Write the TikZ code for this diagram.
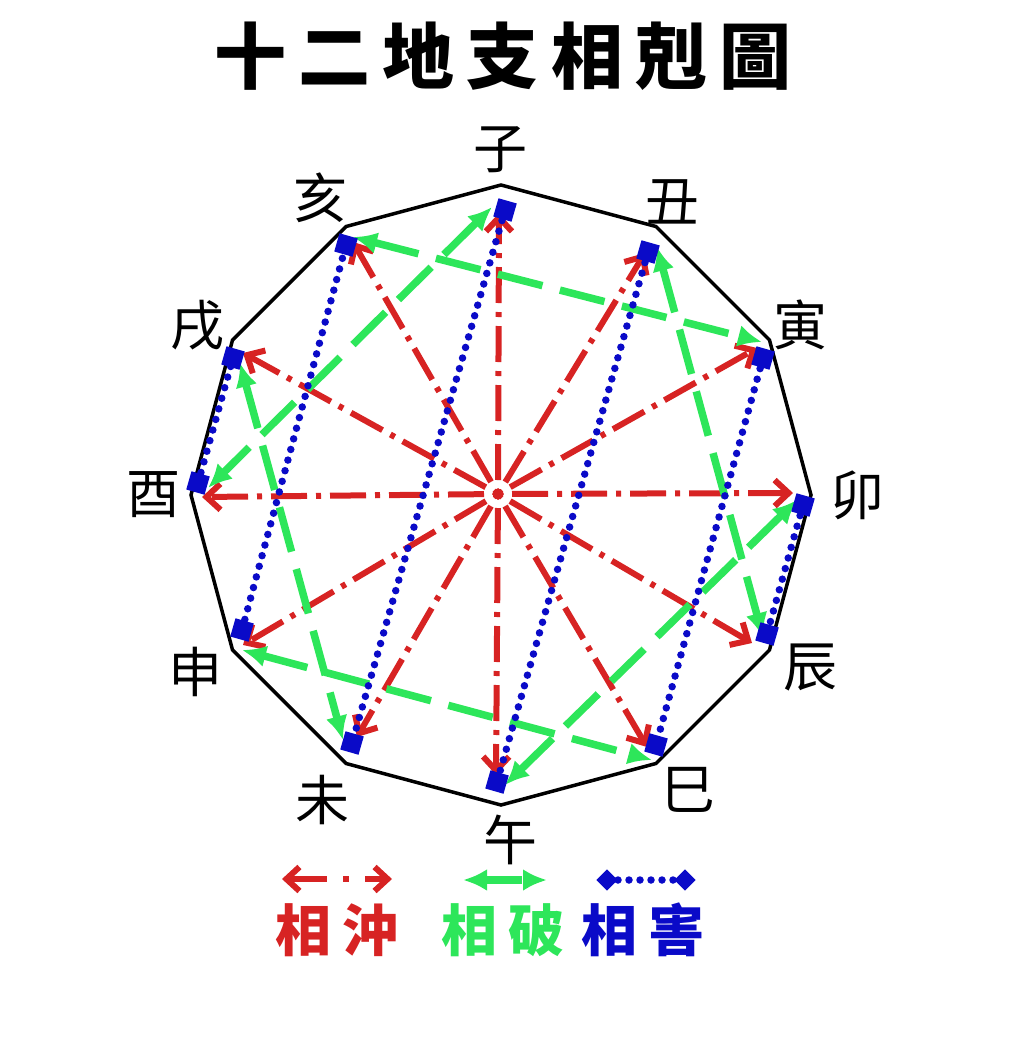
\documentclass[tikz,border=0pt]{standalone}
\usepackage{fontspec}
\newfontfamily\cjk{Noto Sans CJK TC}
\newfontfamily\cjktitle[LetterSpace=17]{Noto Sans CJK TC}
\newfontfamily\cjklegend[LetterSpace=20]{Noto Sans CJK TC}
\usetikzlibrary{arrows.meta}
\tikzset{>=stealth}

\definecolor{chongred}{RGB}{215,35,35}
\definecolor{pogreen}{RGB}{45,230,90}
\definecolor{haiblue}{RGB}{10,10,200}

\tikzset{
  rim/.style={black,line width=3.5pt,line join=miter},
  chong/.style={chongred,line width=6pt,dash pattern=on 5pt off 9pt on 36pt off 9pt,
    -{Straight Barb[length=14pt,width=26pt]}},
  po/.style={pogreen,line width=7.5pt,dash pattern=on 46pt off 18pt,
    {Latex[length=24pt,width=22pt]}-{Latex[length=24pt,width=22pt]}},
  hai/.style={haiblue,line width=7.5pt,line cap=round,dash pattern=on 0pt off 11pt},
  haimark/.style={fill=haiblue,inner sep=0pt,minimum size=19pt,rotate=-16},
  branch/.style={font=\cjk\fontsize{54}{54}\selectfont,inner sep=0pt},
  legendtext/.style={font=\cjklegend\bfseries\fontsize{56}{56}\selectfont,inner sep=0pt},
}

\begin{document}
\begin{tikzpicture}[x=1pt,y=-1pt]
  \useasboundingbox (0,0) rectangle (1015,1062);

  \node[font=\cjktitle\bfseries\fontsize{72}{72}\selectfont,inner sep=0pt] (title) at (503,56) {十二地支相剋圖};

  % the twelve-sided rim
  \draw[rim,shift={(501,495)}] (-90:310) \foreach \a in {-60,-30,...,240} { -- (\a:310) } -- cycle;

  % branch names
  \foreach \n/\t/\x/\y in {zi/子/500/150, chou/丑/672/202, yin/寅/800/325, mao/卯/857/495,
      chen/辰/810/668, si/巳/688/790, wu/午/510/840, wei/未/322/800,
      shen/申/195/672, you/酉/153/495, xu/戌/197/325, hai/亥/320/198}
    \node[branch] (l-\n) at (\x,\y) {\t};

  \coordinate (o) at (498,494);
  \foreach \n/\x/\y in {zi/499/213, chou/645/253, yin/757/348, mao/793/493,
      chen/752/643, si/647/747, wu/496/775, wei/357/737,
      shen/243/645, you/202/497, xu/243/353, hai/353/242}
    \coordinate (c-\n) at (\x,\y);
  \foreach \n/\x/\y in {zi/492/207, chou/657/247, yin/762/342, mao/797/500,
      chen/763/637, si/652/760, wu/505/785, wei/343/740,
      shen/242/650, you/208/488, xu/240/363, hai/353/237}
    \coordinate (p-\n) at (\x,\y);

  % clash
  \foreach \n in {zi,chou,yin,mao,chen,si,wu,wei,shen,you,xu,hai}
    \draw[chong] (o) -- (c-\n);

  % break
  \foreach \a/\b in {zi/you, hai/yin, xu/wei, chou/chen, mao/wu, shen/si}
    \draw[po] (p-\a) -- (p-\b);

  % harm
  \foreach \n/\x/\y in {zi/505/210, chou/648/252, yin/763/358, mao/803/505,
      chen/767/634, si/656/745, wu/497/782, wei/352/743,
      shen/242/630, you/198/483, xu/233/358, hai/346/245}
    \node[haimark] (h-\n) at (\x,\y) {};
  \foreach \a/\b in {zi/wei, chou/wu, yin/si, mao/chen, shen/hai, you/xu}
    \draw[hai] (h-\a.center) -- (h-\b.center);

  % legend
  \coordinate (k-a) at (282,879);
  \coordinate (k-b) at (392,879);
  \draw[chong,dash pattern=on 38pt off 16pt on 6pt off 16pt,
    {Straight Barb[length=13pt,width=24pt]}-{Straight Barb[length=13pt,width=24pt]}] (k-a) -- (k-b);
  \coordinate (q-a) at (463,880);
  \coordinate (q-b) at (547,880);
  \draw[po,line width=8pt,dash pattern=on 37pt off 10pt] (q-a) -- (q-b);
  \node[haimark,rotate=61,minimum size=15pt] (m-a) at (607,880) {};
  \node[haimark,rotate=61,minimum size=15pt] (m-b) at (685,880) {};
  \draw[hai] (m-a.center) -- (m-b.center);

  \node[legendtext,text=chongred] (t-chong) at (337,930) {相沖};
  \node[legendtext,text=pogreen] (t-po) at (503,930) {相破};
  \node[legendtext,text=haiblue] (t-hai) at (643,930) {相害};
\end{tikzpicture}
\end{document}
